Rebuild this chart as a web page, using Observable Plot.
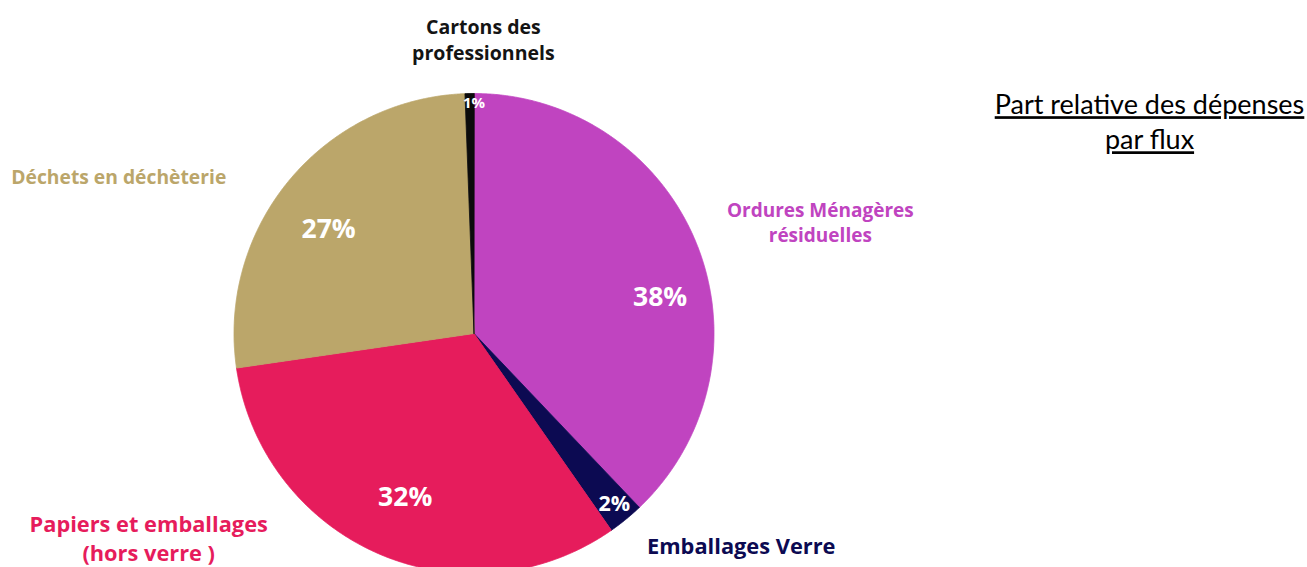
<!DOCTYPE html>
<html>
<head>
<meta charset="utf-8">
<script src="https://cdn.jsdelivr.net/npm/d3@7"></script>
<script src="https://cdn.jsdelivr.net/npm/@observablehq/plot@0.6"></script>
<style>
  html, body { margin: 0; padding: 0; background: #ffffff; }
  #chart { width: 1307px; height: 567px; overflow: hidden; }
  text[aria-label="title"] { text-decoration: underline; }
</style>
</head>
<body>
<div id="chart"></div>
<script>
// ---- Data ----
const categories = [
  "Ordures Ménagères\nrésiduelles",
  "Emballages Verre",
  "Papiers et emballages\n(hors verre )",
  "Déchets en déchèterie",
  "Cartons des\nprofessionnels"
];
const shares = [37.9, 2.4, 32.4, 26.7, 0.6];
const sliceColors = ["#c044c0", "#0c0a52", "#e61c5c", "#bba66a", "#0b0b0b"];
const nameColors  = ["#c044c0", "#0c0a52", "#e61c5c", "#bba66a", "#141414"];
const chartTitle = "Part relative des dépenses\npar flux";

// ---- Layout (not data) ----
const W = 1307, H = 567;
const cx = 473.5, cy = 333, R = 240;        // pie centre / radius in px
// label placement: angle offset from slice mid (deg), radius factor, font size
const pctLayout  = [[10.8, 0.79, 26.5], [-0.2, 0.92, 21.5], [-0.6, 0.74, 26.5], [-4.2, 0.745, 26.5], [1.1, 0.96, 15]];
const nameLayout = [[3.8, 1.517, 19], [-12.4, 1.42, 21.8], [34.5, 1.60, 21.8], [-15.8, 1.62, 19.3], [2.9, 1.23, 19.5]];

const rows = categories.map((name, i) => ({name, share: shares[i], color: sliceColors[i], nameColor: nameColors[i], i}));
const arcs = d3.pie().sort(null).value(d => d.share)(rows);

// polygon points for each slice (unit radius), angle clockwise from 12 o'clock
const pts = [];
for (const a of arcs) {
  const n = Math.max(2, Math.ceil((a.endAngle - a.startAngle) / (Math.PI / 720)));
  pts.push({name: a.data.name, color: a.data.color, x: 0, y: 0});
  for (let k = 0; k <= n; k++) {
    const t = a.startAngle + (a.endAngle - a.startAngle) * k / n;
    pts.push({name: a.data.name, color: a.data.color, x: Math.sin(t), y: Math.cos(t)});
  }
}

const polar = (a, L) => {
  const mid = (a.startAngle + a.endAngle) / 2 + L[0] * Math.PI / 180;
  return {x: L[1] * Math.sin(mid), y: L[1] * Math.cos(mid)};
};
const pctLabels = arcs.map((a, i) => ({...polar(a, pctLayout[i]), text: Math.round(a.data.share) + "%", size: pctLayout[i][2]}));
const nameLabels = arcs.map((a, i) => ({...polar(a, nameLayout[i]), text: a.data.name, size: nameLayout[i][2], color: a.data.nameColor}));

const plot = Plot.plot({
  width: W,
  height: H,
  margin: 0,
  style: {background: "#ffffff", overflow: "visible"},
  x: {domain: [-cx / R, (W - cx) / R], range: [0, W], axis: null},
  y: {domain: [-(H - cy) / R, cy / R], range: [H, 0], axis: null},
  color: {type: "identity"},
  marks: [
    Plot.line(pts, {x: "x", y: "y", z: "name", fill: "color", stroke: "color", strokeWidth: 0.8, curve: "linear-closed"}),
    Plot.text(pctLabels, {x: "x", y: "y", text: "text", fontSize: "size", fill: "#ffffff",
      fontWeight: "bold", fontFamily: "Open Sans", textAnchor: "middle", lineAnchor: "middle"}),
    Plot.text(nameLabels, {x: "x", y: "y", text: "text", fontSize: "size", fill: "color",
      fontWeight: "bold", fontFamily: "Open Sans", textAnchor: "middle", lineAnchor: "middle", lineHeight: 1.32}),
    Plot.text([chartTitle], {frameAnchor: "top-right", dx: -158, dy: 120, text: d => d, ariaLabel: () => "title",
      fill: "#000000", fontSize: 27, fontFamily: "Lato", textAnchor: "middle", lineAnchor: "middle", lineHeight: 1.3})
  ]
});
document.getElementById("chart").appendChild(plot);
</script>
</body>
</html>
